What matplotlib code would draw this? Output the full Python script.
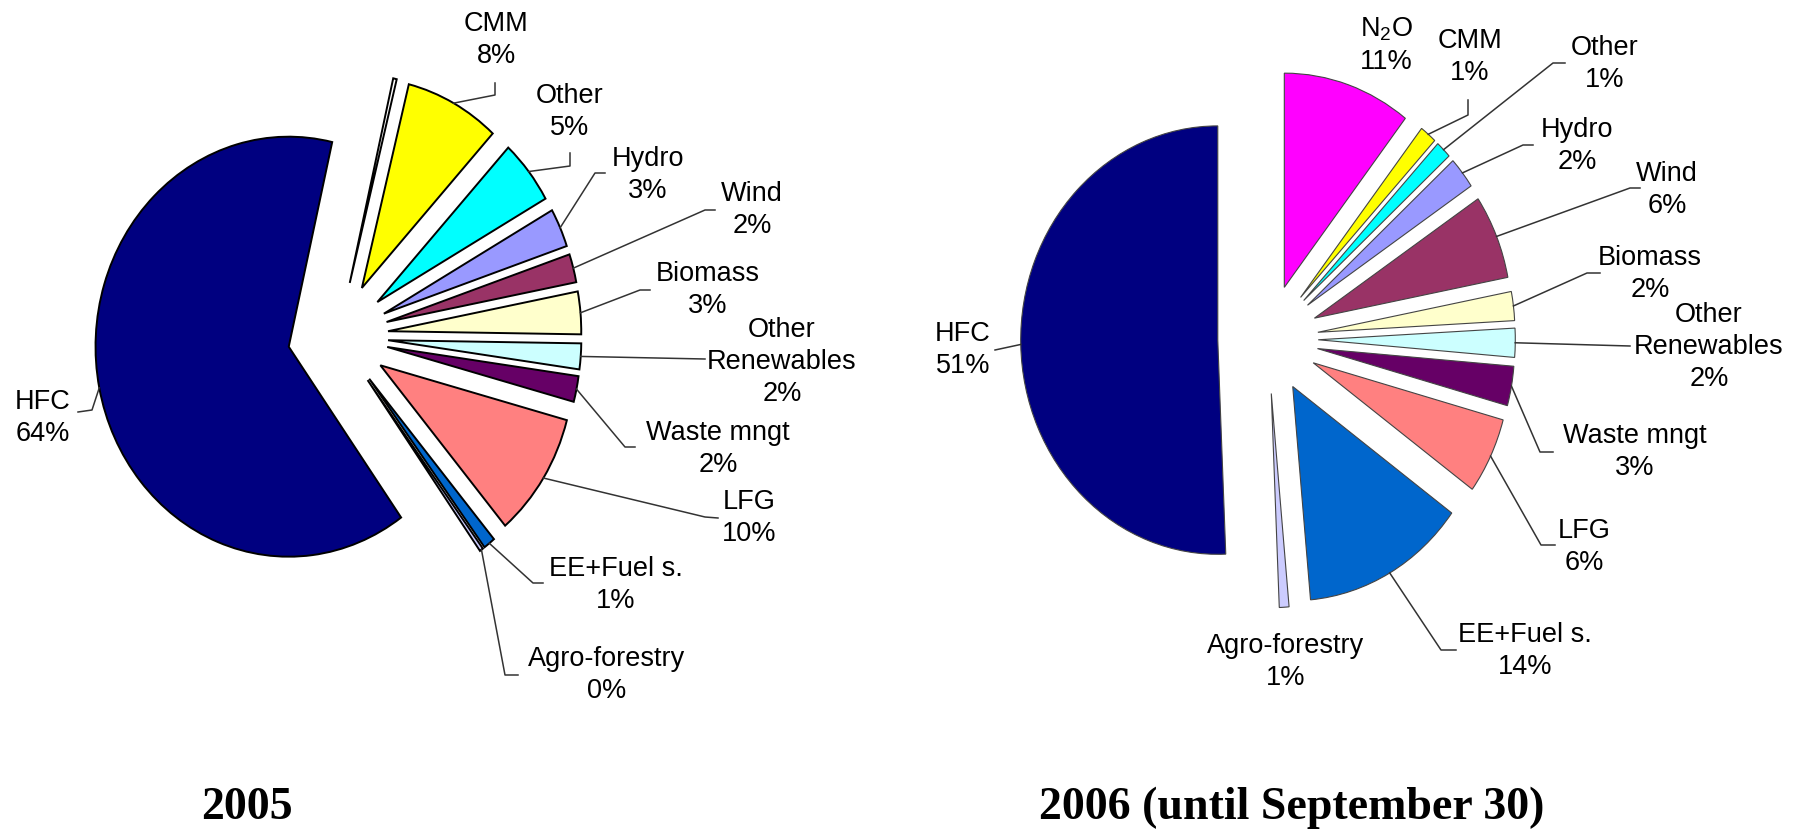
import numpy as np
import matplotlib.pyplot as plt

plt.rcParams['font.family'] = 'Liberation Sans'
plt.rcParams['mathtext.fontset'] = 'custom'
plt.rcParams['mathtext.rm'] = 'Liberation Sans'

# --- data (shares, labels as printed) ---
categories = ['N$_\\mathrm{2}$O', 'CMM', 'Other', 'Hydro', 'Wind', 'Biomass',
              'Other\nRenewables', 'Waste mngt', 'LFG', 'EE+Fuel s.',
              'Agro-forestry', 'HFC']
values_2005 = [0.3, 8, 5, 3, 2.2, 3.3, 2, 2, 9.7, 1, 0.3, 64]
values_2006 = [10.6, 1.4, 1.3, 2.4, 6.4, 2.2, 2.2, 3, 5.8, 13.6, 0.8, 51]
pct_2005 = ['', '8%', '5%', '3%', '2%', '3%', '2%', '2%', '10%', '1%', '0%', '64%']
pct_2006 = ['11%', '1%', '1%', '2%', '6%', '2%', '2%', '3%', '6%', '14%', '1%', '51%']
colors_2005 = ['#FFFFFF', '#FFFF00', '#00FFFF', '#9999FF', '#993366', '#FFFFCC',
               '#CCFFFF', '#660066', '#FF8080', '#0066CC', '#CCCCFF', '#000080']
colors_2006 = ['#FF00FF', '#FFFF00', '#00FFFF', '#9999FF', '#993366', '#FFFFCC',
               '#CCFFFF', '#660066', '#FF8080', '#0066CC', '#CCCCFF', '#000080']
titles = ['2005', '2006 (until September 30)']

# --- layout (pixels from top-left) ---
W, H = 1804, 836
R = 210.0   # pie radius, px
SX = 0.92   # horizontal squash of the original picture

def px(x, y):
    return x / (R * SX), (H - y) / R

label_pos_2005 = [None, (496, 40), (570, 112), (648, 175), (752, 210), (708, 290),
                  (782, 362), (718, 449), (749, 518), (616, 585), (607, 675), (43, 418)]
leader_2005 = [None, [(495, 95), (495, 83)], [(570, 166), (570, 153)],
               [(595, 173), (605, 173)], [(705, 210), (715, 210)],
               [(640, 290), (650, 290)], [(705, 359)], [(625, 447), (635, 447)],
               [(705, 517), (718, 518)], [(533, 583), (543, 583)],
               [(505, 675), (518, 675)], [(92, 410), (78, 412)]]
label_pos_2006 = [(1386, 45), (1470, 57), (1605, 64), (1577, 146), (1667, 190),
                  (1650, 274), (1709, 347), (1635, 452), (1584, 547), (1525, 651),
                  (1286, 662), (963, 350)]
leader_2006 = [None, [(1468, 115), (1468, 100)], [(1553, 63), (1565, 63)],
               [(1523, 145), (1533, 145)], [(1630, 188), (1640, 188)],
               [(1587, 273), (1600, 273)], [(1630, 346)], [(1540, 452), (1553, 452)],
               [(1541, 545), (1555, 545)], [(1441, 650), (1456, 650)], None,
               [(995, 350)]]

fig = plt.figure(figsize=(W / 100, H / 100), dpi=100)
ax = fig.add_axes([0, 0, 1, 1])


def draw_pie(values, pcts, colors, center, start, radius, labels_at, leaders, edge, lw):
    wedges, _ = ax.pie(values, colors=colors, startangle=start, counterclock=False,
                       explode=[0.26] * len(values), center=px(*center), radius=radius,
                       wedgeprops=dict(edgecolor=edge, linewidth=lw))
    for i, w in enumerate(wedges):
        if not pcts[i]:
            continue
        tx, ty = px(*labels_at[i])
        ax.text(tx, ty, f'{categories[i]}\n{pcts[i]}', ha='center', va='center',
                fontsize=19.5, linespacing=1.28, color='black')
        if leaders[i]:
            mid = np.deg2rad((w.theta1 + w.theta2) / 2)
            xs = [w.center[0] + w.r * np.cos(mid)]
            ys = [w.center[1] + w.r * np.sin(mid)]
            for p in leaders[i]:
                qx, qy = px(*p)
                xs.append(qx)
                ys.append(qy)
            ax.plot(xs, ys, color='#333333', lw=1.1)


draw_pie(values_2005, pct_2005, colors_2005, (338, 336), 77, 1.0,
         label_pos_2005, leader_2005, 'black', 1.4)
draw_pie(values_2006, pct_2006, colors_2006, (1268, 339), 90, 1.02,
         label_pos_2006, leader_2006, '#444444', 0.8)

for t, (x, y) in zip(titles, [(247, 808), (1292, 808)]):
    tx, ty = px(x, y)
    ax.text(tx, ty, t, ha='center', va='center', fontsize=33,
            family='Liberation Serif', weight='bold')

ax.set_aspect('auto')
ax.set_xlim(0, W / (R * SX))
ax.set_ylim(0, H / R)
ax.axis('off')

fig.savefig('out.png', dpi=100, facecolor='white')
